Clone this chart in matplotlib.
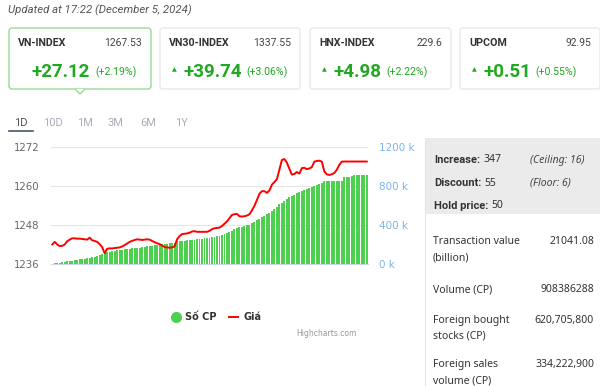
import matplotlib
matplotlib.use("Agg")
import matplotlib.pyplot as plt
from matplotlib.patches import FancyBboxPatch, Rectangle, Polygon
from matplotlib.lines import Line2D

# ---- data ----
updated = "Updated at 17:22 (December 5, 2024)"

idx_names = ["VN-INDEX", "VN30-INDEX", "HNX-INDEX", "UPCOM"]
idx_values = ["1267.53", "1337.55", "229.6", "92.95"]
idx_changes = ["+27.12", "+39.74", "+4.98", "+0.51"]
idx_pcts = ["(+2.19%)", "(+3.06%)", "(+2.22%)", "(+0.55%)"]

periods = ["1D", "10D", "1M", "3M", "6M", "1Y"]

tick_labels = ["09:16", "09:30", "09:44", "09:58", "10:14", "10:28", "10:42",
               "10:56", "11:10", "11:24", "13:08", "13:22", "13:36", "13:50",
               "14:04", "14:18", "14:32", "14:46", "15:00"]
tick_step = 7

price = [1242.0, 1242.8, 1242.0, 1241.5, 1241.6, 1242.0, 1243.0, 1243.5, 1243.9, 1243.9,
         1243.8, 1243.8, 1243.7, 1243.6, 1243.5, 1244.1, 1243.3, 1243.1, 1242.8, 1242.1,
         1241.2, 1239.3, 1240.7, 1240.8, 1240.8, 1240.9, 1241.0, 1241.1, 1241.4, 1241.8,
         1242.3, 1242.8, 1243.1, 1243.4, 1243.6, 1243.5, 1243.4, 1243.5, 1243.6, 1243.5,
         1243.1, 1242.7, 1242.4, 1242.1, 1241.7, 1241.2, 1241.1, 1241.0, 1241.1, 1241.4,
         1243.6, 1244.6, 1245.2, 1245.3, 1245.4, 1245.6, 1246.0, 1246.1, 1245.9, 1245.9,
         1245.9, 1245.9, 1245.9, 1246.2, 1246.7, 1247.0, 1247.1, 1247.2, 1247.7, 1248.4,
         1249.1, 1250.1, 1251.1, 1251.3, 1251.4, 1250.7, 1250.6, 1250.7, 1250.9, 1251.3,
         1252.5, 1253.9, 1255.7, 1257.6, 1258.4, 1258.4, 1257.9, 1258.6, 1260.4, 1261.2,
         1262.1, 1265.0, 1268.0, 1268.3, 1267.2, 1265.3, 1263.5, 1263.7, 1264.3, 1263.8,
         1265.5, 1265.6, 1265.2, 1265.4, 1265.8, 1267.5, 1267.7, 1267.8, 1267.5, 1264.5,
         1263.6, 1263.4, 1263.6, 1264.0, 1265.0, 1266.5, 1267.5, 1267.53, 1267.53, 1267.53,
         1267.53, 1267.53, 1267.53, 1267.53, 1267.53, 1267.53, 1267.53]

volume_k = [5, 8, 10, 14, 18, 22, 26, 30, 35, 40,
            43, 48, 52, 56, 60, 64, 68, 72, 78, 88,
            98, 108, 118, 125, 130, 135, 140, 145, 148, 152,
            155, 157, 160, 163, 166, 169, 172, 175, 180, 184,
            188, 192, 196, 200, 203, 206, 209, 212, 215, 218,
            232, 235, 237, 241, 243, 245, 247, 250, 253, 256,
            261, 264, 267, 270, 274, 278, 283, 290, 298, 307,
            317, 328, 342, 355, 368, 375, 382, 388, 395, 405,
            418, 432, 447, 462, 480, 495, 510, 528, 545, 560,
            582, 612, 630, 650, 665, 685, 700, 712, 725, 738,
            752, 760, 768, 776, 785, 795, 810, 822, 835, 850,
            852, 852, 852, 852, 852, 852, 852, 890, 892, 894,
            900, 908, 908, 908, 908, 908, 908]

breadth = [("Increase:", "347", "(Ceiling: 16)"),
           ("Discount:", "55", "(Floor: 6)"),
           ("Hold price:", "50", "")]
stats_labels = [["Transaction value", "(billion)"], ["Volume (CP)"],
                ["Foreign bought", "stocks (CP)"], ["Foreign sales", "volume (CP)"]]
stats_values = ["21041.08", "908386288", "620,705,800", "334,222,900"]

GREEN = "#22a722"
BAR = "#4fcf4f"

fig = plt.figure(figsize=(6, 3.86), dpi=100)
bg = fig.add_axes([0, 0, 1, 1])
bg.set_xlim(0, 600)
bg.set_ylim(386, 0)
bg.axis("off")
renderer = fig.canvas.get_renderer()


def right_end(t):
    bb = t.get_window_extent(renderer)
    return bg.transData.inverted().transform((bb.x1, bb.y0))[0]


bg.text(8, 10, updated, fontsize=8.2, style="italic", color="#555555",
        family="Roboto", va="center")

# cards
card_x = [9, 160, 310, 460]
card_w = [142, 140, 141, 140]
for k in range(4):
    x0 = card_x[k]
    ec = "#8fd48f" if k == 0 else "#e6e6e6"
    bg.add_patch(FancyBboxPatch((x0, 28), card_w[k], 61,
                                boxstyle="round,pad=0,rounding_size=3",
                                fc="white", ec=ec, lw=0.9))
    bg.text(x0 + 9, 43, idx_names[k], fontsize=7.7, weight="bold", color="#333333",
            family="Roboto", va="center")
    bg.text(x0 + card_w[k] - 9, 43, idx_values[k], fontsize=7.5, color="#444444",
            family="Roboto", va="center", ha="right")
    cx = x0 + 23
    if k > 0:
        bg.text(x0 + 12, 70, "\u25b2", fontsize=4.5, color=GREEN, va="center")
    t = bg.text(cx, 72, idx_changes[k], fontsize=13.5, weight="bold", color=GREEN,
                family="Roboto", va="center")
    bg.text(right_end(t) + 5, 72.5, idx_pcts[k], fontsize=7.6, color=GREEN,
            family="Roboto", va="center")
# pointer under the active card
bg.add_patch(Polygon([[75, 89], [80, 94], [85, 89]], closed=False,
                     fc="white", ec="#8fd48f", lw=0.9))

# period tabs
tab_x = [14, 43, 77, 108, 140, 175]
for k, p in enumerate(periods):
    bg.text(tab_x[k], 123, p, fontsize=8, color="#555555" if k == 0 else "#a9aebb",
            family="Roboto", va="center")
bg.plot([9, 33], [130.5, 130.5], color="#4a5568", lw=1.2)

# chart
ax2 = fig.add_axes([51 / 600, 1 - 264 / 386, 317 / 600, 117 / 386])
ax = ax2.twinx()
ax.set_zorder(ax2.get_zorder() + 1)
ax.patch.set_visible(False)

xs = list(range(len(price)))
ax2.bar(xs, volume_k, width=0.78, color=BAR, lw=0)
ax.plot(xs, price, color="#ff0000", lw=1.4)

ax2.set_ylim(0, 1200)
ax2.set_yticks([0, 400, 800, 1200])
ax2.set_yticklabels([f"{v} k" for v in [0, 400, 800, 1200]])
ax.set_ylim(1236, 1272)
ax.set_yticks([1236, 1248, 1260, 1272])
ax.set_xlim(-0.5, len(price) - 0.5)
ax2.set_xlim(-0.5, len(price) - 0.5)

ax2.yaxis.tick_right()
ax.yaxis.tick_left()
ax2.tick_params(axis="y", length=0, pad=8, labelsize=7.5, labelcolor="#7cb5ec")
ax.tick_params(axis="y", length=0, pad=8, labelsize=7.3, labelcolor="#666666")
ax2.set_xticks(xs[::tick_step])
ax2.set_xticklabels(tick_labels, rotation=45, ha="right", rotation_mode="anchor")
ax2.tick_params(axis="x", length=0, pad=4, labelsize=6.5, labelcolor="#666666")
ax.set_xticks([])

ax2.set_axisbelow(True)
ax2.grid(axis="y", color="#e6e6e6", lw=0.8)
for a in (ax, ax2):
    for s in a.spines.values():
        s.set_visible(False)
ax2.spines["bottom"].set_visible(True)
ax2.spines["bottom"].set_color("#ccd6eb")
ax2.spines["bottom"].set_linewidth(0.8)

handles = [Line2D([], [], ls="none", marker="o", ms=7, color=BAR),
           Line2D([], [], color="#ff0000", lw=1.4)]
leg = fig.legend(handles, ["S\u1ed1 CP", "Gi\u00e1"], loc="center",
                 bbox_to_anchor=(216 / 600, 1 - 317 / 386), ncol=2, frameon=False,
                 prop={"size": 7, "weight": "bold", "family": "DejaVu Sans"},
                 handlelength=1.0, columnspacing=1.2, handletextpad=0.5)
for t in leg.get_texts():
    t.set_color("#333333")

bg.text(357, 333, "Highcharts.com", fontsize=5.5, color="#999999", ha="right",
        va="center")

# right panel
bg.plot([425, 425], [138, 386], color="#e5e5e5", lw=0.8)
bg.add_patch(Rectangle((425, 138), 175, 76, fc="#ebebeb", ec="none"))
for k, (lab, val, note) in enumerate(breadth):
    y = 160 + 23 * k
    t = bg.text(434, y, lab, fontsize=8, weight="bold", color="#333333",
                family="Roboto", va="center")
    bg.text(right_end(t) + 3, y, val, fontsize=7.5, color="#333333",
            family="Noto Sans", va="center")
    if note:
        bg.text(530, y, note, fontsize=7.5, style="italic", color="#444444",
                family="Noto Sans", va="center")

stat_y = [242, 290, 320, 365]
for k in range(4):
    for j, line in enumerate(stats_labels[k]):
        bg.text(433, stat_y[k] + 16 * j, line, fontsize=7.5, color="#333333",
                family="Noto Sans", va="center")
    bg.text(594, stat_y[k], stats_values[k], fontsize=7.5, color="#333333",
            family="Noto Sans", va="center", ha="right")

fig.savefig("out.png", dpi=100)
